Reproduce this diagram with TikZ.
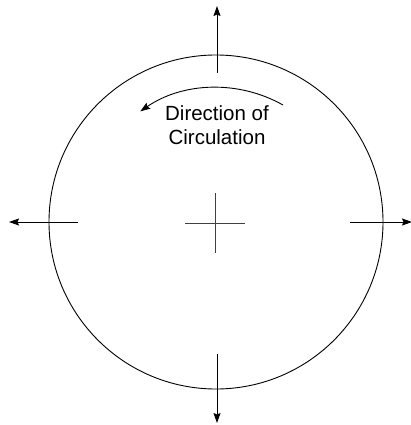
\documentclass[tikz,border=0pt]{standalone}
\usepackage{fontspec}
\setmainfont{Liberation Sans}
\usetikzlibrary{arrows.meta}
\begin{document}
\begin{tikzpicture}[x=1pt,y=-1pt,
  line/.style={line width=0.9pt,black},
  arr/.style={line,-{Stealth[length=10pt,width=7pt,inset=1.5pt]}},
  lbl/.style={font=\fontsize{20.5}{23}\selectfont,align=center,inner sep=0pt}]
\useasboundingbox (0,0) rectangle (411,425);
\coordinate (c) at (216,222);
\node[draw,line,circle,minimum size=334pt,inner sep=0pt] (circ) at (c) {};
% cross at centre
\coordinate (hl) at (185,223); \coordinate (hr) at (245,223);
\coordinate (vt) at (215,193); \coordinate (vb) at (215,253);
\draw[line,black!75] (hl) -- (hr);
\draw[line,black!75] (vt) -- (vb);
% outward arrows
\coordinate (ts) at (217,73);  \coordinate (te) at (217,6);
\coordinate (bs) at (217,354); \coordinate (be) at (217,423);
\coordinate (ls) at (78,222);  \coordinate (le) at (9,222);
\coordinate (rs) at (350,222); \coordinate (re) at (412,222);
\draw[arr] (ts) -- (te);
\draw[arr] (bs) -- (be);
\draw[arr] (ls) -- (le);
\draw[arr] (rs) -- (re);
% direction of circulation
\coordinate (as) at (283,105);
\draw[arr] (as) arc[start angle=-60.6,end angle=-124.5,radius=135];
\node[lbl,anchor=base] (t1) at (217,121) {Direction of};
\node[lbl,anchor=base] (t2) at (217,144) {Circulation};
\end{tikzpicture}
\end{document}
